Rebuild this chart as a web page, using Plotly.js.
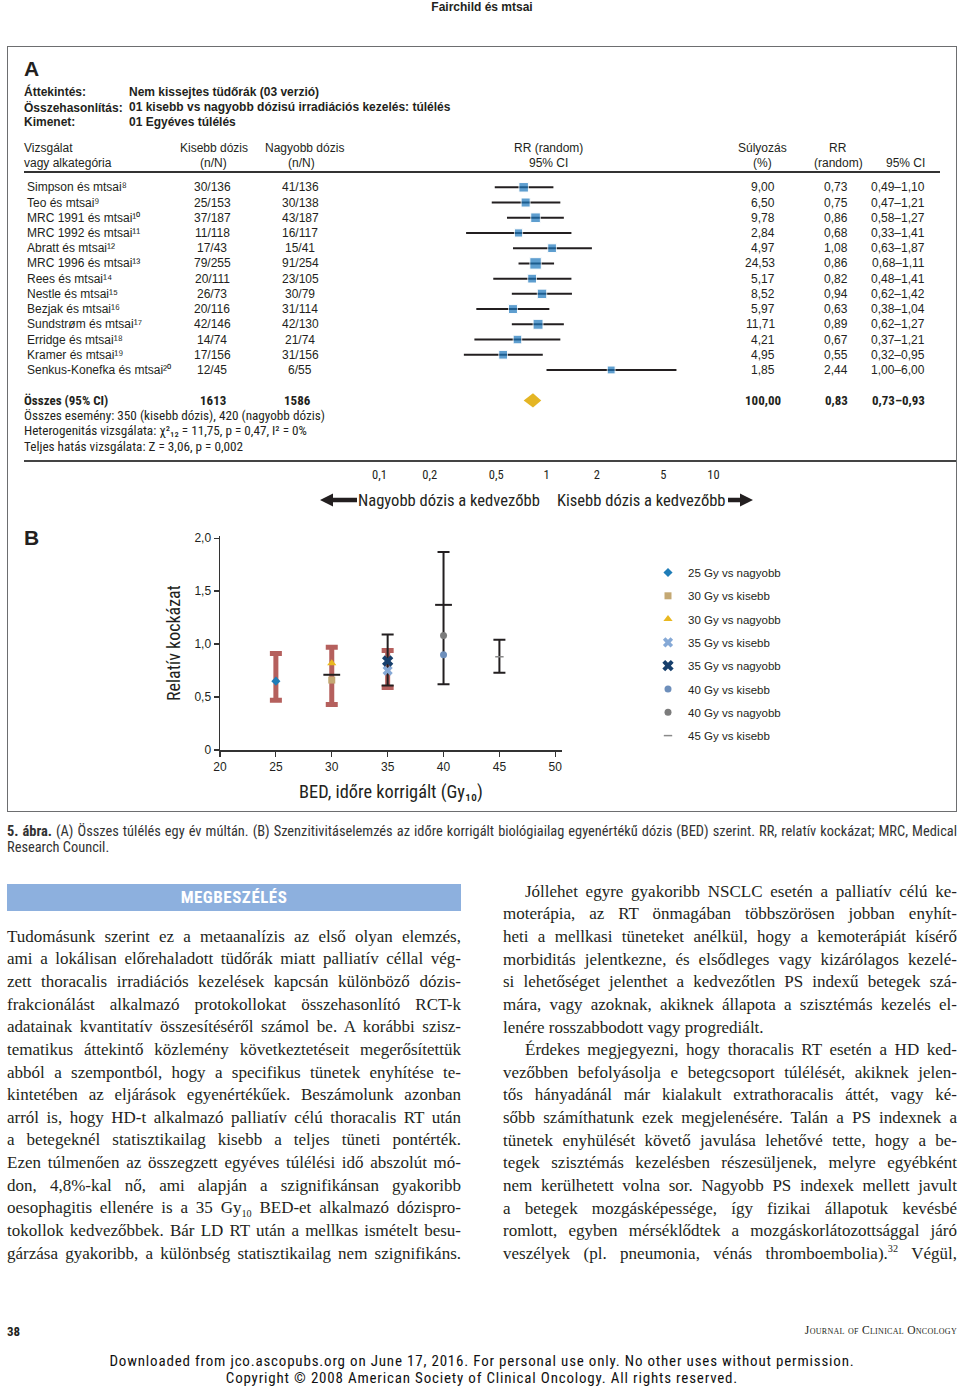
<!DOCTYPE html>
<html><head><meta charset="utf-8">
<script src="https://cdn.plot.ly/plotly-3.0.1.min.js"></script>
<style>
html,body{margin:0;padding:0;background:#fff}
body{width:960px;height:1387px;position:relative;overflow:hidden;font-family:"Liberation Sans",Arial,sans-serif;color:#231f20}
.abs{position:absolute}
#hdr{left:0;width:964px;top:0;text-align:center;font-weight:bold;font-size:12px;line-height:14px}
#box{left:7px;top:46px;width:948px;height:764px;border:1.5px solid #6d6e70}
#fig{left:7px;top:46px;width:950px;height:766px}
.cap{left:7px;width:950px;font-family:"Roboto Condensed","Liberation Sans Narrow","DejaVu Sans Condensed",sans-serif;font-size:13px;line-height:16px;color:#333;white-space:nowrap}
#mb{left:7px;top:884px;width:454px;height:27px;background:#8db0de;color:#fff;text-align:center;font-family:"Roboto Condensed","Liberation Sans Narrow","DejaVu Sans Condensed",sans-serif;font-weight:bold;font-size:17px;line-height:27px;letter-spacing:0.5px}
.col{width:454px;font-family:"Liberation Serif","DejaVu Serif",serif;font-size:17px;line-height:22.64px;color:#231f20}
.col div{white-space:nowrap}
.col sub,.col sup{font-size:0.6em;line-height:0}
#pg{left:7px;top:1324px;font-family:"Roboto Condensed","Liberation Sans Narrow","DejaVu Sans Condensed",sans-serif;font-weight:bold;font-size:13px}
#jco{right:3px;top:1324px;font-family:"Liberation Serif",serif;font-size:11.5px;font-variant:small-caps;letter-spacing:0.3px}
.dl{left:0;width:964px;text-align:center;font-family:"Roboto Condensed","Liberation Sans Narrow","DejaVu Sans Condensed",sans-serif;font-size:15px;line-height:15px;height:15px;color:#111;white-space:nowrap}
</style></head>
<body>
<div id="hdr" class="abs">Fairchild és mtsai</div>
<div id="box" class="abs"></div>
<div id="fig" class="abs"></div>
<div id="cap" class="abs cap" style="top:824px"><div><span id="cap1"><b>5. ábra.</b> (A) Összes túlélés egy év múltán. (B) Szenzitivitáselemzés az időre korrigált biológiailag egyenértékű dózis (BED) szerint. RR, relatív kockázat; MRC, Medical</span></div><div>Research Council.</div></div>
<div id="mb" class="abs">MEGBESZÉLÉS</div>
<div id="colL" class="abs col" style="left:7px;top:925.7px"></div>
<div id="colR" class="abs col" style="left:503px;top:880.7px"></div>
<div id="pg" class="abs">38</div>
<div id="jco" class="abs">Journal of Clinical Oncology</div>
<div class="abs dl" style="top:1354px"><span id="dl1">Downloaded from jco.ascopubs.org on June 17, 2016. For personal use only. No other uses without permission.</span></div>
<div class="abs dl" style="top:1371px"><span id="dl2">Copyright © 2008 American Society of Clinical Oncology. All rights reserved.</span></div>
<script>
// ---------- Panel A data (forest plot) ----------
const studyNames = ['Simpson és mtsai','Teo és mtsai','MRC 1991 és mtsai','MRC 1992 és mtsai','Abratt és mtsai','MRC 1996 és mtsai','Rees és mtsai','Nestle és mtsai','Bezjak és mtsai','Sundstrøm és mtsai','Erridge és mtsai','Kramer és mtsai','Senkus-Konefka és mtsai'];
const studyRefs = [8,9,10,11,12,13,14,15,16,17,18,19,20];
const lowEvents = [30,25,37,11,17,79,20,26,20,42,14,17,12];
const lowTotal = [136,153,187,118,43,255,111,73,116,146,74,156,45];
const highEvents = [41,30,43,16,15,91,23,30,31,42,21,31,6];
const highTotal = [136,138,187,117,41,254,105,79,114,130,74,156,55];
const weights = [9.00,6.50,9.78,2.84,4.97,24.53,5.17,8.52,5.97,11.71,4.21,4.95,1.85];
const rr = [0.73,0.75,0.86,0.68,1.08,0.86,0.82,0.94,0.63,0.89,0.67,0.55,2.44];
const ciLow = [0.49,0.47,0.58,0.33,0.63,0.68,0.48,0.62,0.38,0.62,0.37,0.32,1.00];
const ciHigh = [1.10,1.21,1.27,1.41,1.87,1.11,1.41,1.42,1.04,1.27,1.21,0.95,6.00];
const pooledWeight = 100.00;
const pooledRR = 0.83;
const pooledLow = 0.73;
const pooledHigh = 0.93;
const forestTickVals = [0.1,0.2,0.5,1,2,5,10];
const forestTickText = ['0,1','0,2','0,5','1','2','5','10'];

// ---------- Panel B data ----------
const bedLabels = ['25 Gy vs nagyobb','30 Gy vs kisebb','30 Gy vs nagyobb','35 Gy vs kisebb','35 Gy vs nagyobb','40 Gy vs kisebb','40 Gy vs nagyobb','45 Gy vs kisebb'];
const bedX = [25,30,30,35,35,40,40,45];
const bedRR = [0.65,0.66,0.82,0.75,0.84,0.90,1.08,0.88];
const redX = [25,30,35];
const redLow = [0.47,0.43,0.59];
const redHigh = [0.91,0.97,0.94];
const blackX = [35,40,45];
const blackLow = [0.61,0.62,0.73];
const blackHigh = [1.09,1.87,1.04];
const dashX = [30,40];
const dashY = [0.71,1.37];
const bedTickX = [20,25,30,35,40,45,50];
const bedTickY = [0,0.5,1,1.5,2];
const bedTickYText = ['0','0,5','1,0','1,5','2,0'];

// ---------- helpers ----------
const SANS = '"Liberation Sans", Arial, sans-serif';
const COND = '"Roboto Condensed", "Liberation Sans Narrow", "DejaVu Sans Condensed", sans-serif';
const INK = '#231f20';
const W = 950, H = 766, L0 = 7, T0 = 46;
const px = p => (p - L0) / W;
const py = p => 1 - (p - T0) / H;
const fmt = (v, d) => v.toFixed(d).replace('.', ',');
const sum = a => a.reduce((s, v) => s + v, 0);
const SUPD = '⁰¹²³⁴⁵⁶⁷⁸⁹', SUBD = '₀₁₂₃₄₅₆₇₈₉';
const sup = n => String(n).split('').map(c => SUPD[+c]).join('');
const sub = n => String(n).split('').map(c => SUBD[+c]).join('');
const cv = document.createElement('canvas').getContext('2d');
function fit(plain, family, bold, target, maxSize) {
  cv.font = (bold ? 'bold ' : '') + '20px ' + family;
  const s = 20 * target / cv.measureText(plain).width;
  return Math.min(s, maxSize || 99);
}

const ann = [];
function txt(text, x, y, o) {
  o = o || {};
  ann.push({
    text: text, x: px(x), xref: 'paper',
    y: o.row !== undefined ? o.row : py(y), yref: o.row !== undefined ? 'y' : 'paper',
    xanchor: o.xa || 'left', yanchor: 'middle', align: 'left', showarrow: false,
    font: {family: o.fam || SANS, size: o.size || 12, color: INK}
  });
}

// Panel A header block
txt('<b>A</b>', 22, 69, {size: 21});
txt('<b>Áttekintés:</b>', 22, 92);
txt('<b>Összehasonlítás:</b>', 22, 107);
txt('<b>Kimenet:</b>', 22, 122);
txt('<b>Nem kissejtes tüdőrák (03 verzió)</b>', 127, 92);
txt('<b>01 kisebb vs nagyobb dózisú irradiációs kezelés: túlélés</b>', 127, 107);
txt('<b>01 Egyéves túlélés</b>', 127, 122);
// column headers
txt('Vizsgálat', 22, 148);
txt('vagy alkategória', 22, 163);
txt('Kisebb dózis', 214, 148, {xa: 'center'});
txt('(n/N)', 213, 163, {xa: 'center'});
txt('Nagyobb dózis', 304, 148, {xa: 'center'});
txt('(n/N)', 301, 163, {xa: 'center'});
txt('RR (random)', 548, 148, {xa: 'center'});
txt('95% CI', 548, 163, {xa: 'center'});
txt('Súlyozás', 762, 148, {xa: 'center'});
txt('(%)', 762, 163, {xa: 'center'});
txt('RR', 838, 148, {xa: 'center'});
txt('(random)', 838, 163, {xa: 'center'});
txt('95% CI', 927, 163, {xa: 'right'});

const rows = studyNames.map((_, i) => i + 1);
studyNames.forEach((n, i) => {
  const r = rows[i];
  txt(n + sup(studyRefs[i]), 25, 0, {row: r});
  txt(lowEvents[i] + '/' + lowTotal[i], 212, 0, {row: r, xa: 'center'});
  txt(highEvents[i] + '/' + highTotal[i], 300, 0, {row: r, xa: 'center'});
  txt(fmt(weights[i], 2), 777, 0, {row: r, xa: 'right'});
  txt(fmt(rr[i], 2), 850, 0, {row: r, xa: 'right'});
  txt(fmt(ciLow[i], 2) + '–' + fmt(ciHigh[i], 2), 927, 0, {row: r, xa: 'right'});
});
const pooledRow = rows.length + 2;
const boldSz = fit('Összes (95% CI)', COND, true, 90, 13);
txt('<b>Összes (95% CI)</b>', 22, 0, {row: pooledRow, fam: COND, size: boldSz});
txt('<b>' + sum(lowTotal) + '</b>', 213, 0, {row: pooledRow, xa: 'center', fam: COND, size: boldSz});
txt('<b>' + sum(highTotal) + '</b>', 297, 0, {row: pooledRow, xa: 'center', fam: COND, size: boldSz});
txt('<b>' + fmt(pooledWeight, 2) + '</b>', 783, 0, {row: pooledRow, xa: 'right', fam: COND, size: boldSz});
txt('<b>' + fmt(pooledRR, 2) + '</b>', 850, 0, {row: pooledRow, xa: 'right', fam: COND, size: boldSz});
txt('<b>' + fmt(pooledLow, 2) + '–' + fmt(pooledHigh, 2) + '</b>', 927, 0, {row: pooledRow, xa: 'right', fam: COND, size: boldSz});
const evText = 'Összes esemény: ' + sum(lowEvents) + ' (kisebb dózis), ' + sum(highEvents) + ' (nagyobb dózis)';
const notes = [evText,
  'Heterogenitás vizsgálata: χ²' + sub(12) + ' = 11,75, p = 0,47, I² = 0%',
  'Teljes hatás vizsgálata: Z = 3,06, p = 0,002'];
const noteSz = fit(evText, COND, false, 318, 13.2);
notes.forEach((t, k) => txt(t, 22, 0, {row: pooledRow + 1 + k, fam: COND, size: noteSz}));
// favour labels
const favSz = fit('Nagyobb dózis a kedvezőbb', COND, false, 182, 17);
txt('Nagyobb dózis a kedvezőbb', 542, 500, {xa: 'right', fam: COND, size: favSz});
txt('Kisebb dózis a kedvezőbb', 555, 500, {fam: COND, size: favSz});
txt('<b>B</b>', 22, 537, {size: 21});

// arrow polygons (paper coordinates)
function arrowPath(tipX, tailX, yc) {
  const dir = tailX > tipX ? 1 : -1;
  const headX = tipX + dir * 13;
  const pts = [[tipX, yc], [headX, yc - 6.5], [headX, yc - 2.2], [tailX, yc - 2.2], [tailX, yc + 2.2], [headX, yc + 2.2], [headX, yc + 6.5]];
  return 'M' + pts.map(p => px(p[0]) + ',' + py(p[1])).join(' L') + ' Z';
}

// ---------- traces ----------
const traces = [];
traces.push({
  type: 'scatter', mode: 'markers', x: rr, y: rows, xaxis: 'x', yaxis: 'y', showlegend: false, hoverinfo: 'skip',
  marker: {symbol: 'square', color: '#1b76bc', size: weights.map(w => 6.5 + Math.sqrt(w))},
  error_x: {type: 'data', symmetric: false, array: rr.map((v, i) => ciHigh[i] - v), arrayminus: rr.map((v, i) => v - ciLow[i]), color: INK, thickness: 2, width: 0}
});
traces.push({
  type: 'scatter', mode: 'lines', xaxis: 'x', yaxis: 'y', showlegend: false, hoverinfo: 'skip',
  x: [pooledLow, pooledRR, pooledHigh, pooledRR, pooledLow],
  y: [pooledRow, pooledRow - 0.47, pooledRow, pooledRow + 0.47, pooledRow],
  fill: 'toself', fillcolor: '#e4b524', line: {width: 0, color: '#e4b524'}
});
// panel B error bars
traces.push({
  type: 'scatter', mode: 'markers', x: redX, y: redLow, xaxis: 'x2', yaxis: 'y2', showlegend: false, hoverinfo: 'skip',
  marker: {size: 1, opacity: 0},
  error_y: {type: 'data', symmetric: false, array: redHigh.map((h, i) => h - redLow[i]), arrayminus: redX.map(() => 0), color: '#b5605d', thickness: 5, width: 6}
});
traces.push({
  type: 'scatter', mode: 'markers', x: blackX, y: blackLow, xaxis: 'x2', yaxis: 'y2', showlegend: false, hoverinfo: 'skip',
  marker: {size: 1, opacity: 0},
  error_y: {type: 'data', symmetric: false, array: blackHigh.map((h, i) => h - blackLow[i]), arrayminus: blackX.map(() => 0), color: INK, thickness: 2, width: 6}
});
traces.push({
  type: 'scatter', mode: 'markers', x: dashX, y: dashY, xaxis: 'x2', yaxis: 'y2', showlegend: false, hoverinfo: 'skip',
  marker: {symbol: 'line-ew', size: 12, line: {width: 2, color: INK}}
});
const bedStyle = [
  {symbol: 'diamond', color: '#1f7db8', size: 7},
  {symbol: 'square', color: '#c4a873', size: 7},
  {symbol: 'triangle-up', color: '#e9b820', size: 8},
  {symbol: 'x', color: '#86a9d6', size: 9},
  {symbol: 'x', color: '#173f6c', size: 10},
  {symbol: 'circle', color: '#6e8fbb', size: 7},
  {symbol: 'circle', color: '#7c7c7c', size: 7},
  {symbol: 'line-ew', color: '#8a8a8a', size: 6}
];
bedLabels.forEach((lab, i) => {
  const s = bedStyle[i];
  traces.push({
    type: 'scatter', mode: 'markers', name: lab, legendgroup: 'g' + i,
    x: [bedX[i]], y: [bedRR[i]], xaxis: 'x2', yaxis: 'y2', hoverinfo: 'skip',
    marker: {symbol: s.symbol, color: s.color, size: s.size, line: {width: s.symbol === 'line-ew' ? 1.5 : 0, color: s.color}}
  });
});

const axisB = {showgrid: false, zeroline: false, showline: true, linecolor: '#333', linewidth: 1.5, ticks: 'outside', ticklen: 5, tickcolor: '#333', tickwidth: 1.2, tickfont: {family: SANS, size: 12, color: INK}, fixedrange: true};
const xTitle = fit('BED, időre korrigált (Gy10)', COND, false, 190, 19);
const yTitle = fit('Relatív kockázat', COND, false, 116, 19);

const layout = {
  width: W, height: H, margin: {l: 0, r: 0, t: 0, b: 0},
  paper_bgcolor: 'rgba(0,0,0,0)', plot_bgcolor: 'rgba(0,0,0,0)',
  xaxis: {type: 'log', domain: [px(546.5 - 1.6 * 167), px(546.5 + 1.5 * 167)], range: [-1.6, 1.5], anchor: 'y',
    tickvals: forestTickVals, ticktext: forestTickText, ticks: '', showgrid: false, zeroline: false, showline: false,
    tickfont: {family: COND, size: 12.5, color: INK}, ticklabelstandoff: 4, fixedrange: true},
  yaxis: {domain: [py(461), py(172)], range: [18.98, -0.005], visible: false, fixedrange: true},
  xaxis2: Object.assign({}, axisB, {domain: [px(220), px(562)], range: [20, 50.6], anchor: 'y2', tickvals: bedTickX,
    title: {text: 'BED, időre korrigált (Gy' + sub(10) + ')', font: {family: COND, size: xTitle, color: INK}, standoff: 12}}),
  yaxis2: Object.assign({}, axisB, {domain: [py(750), py(536)], range: [0, 2.02], anchor: 'x2', tickvals: bedTickY, ticktext: bedTickYText,
    title: {text: 'Relatív kockázat', font: {family: COND, size: yTitle, color: INK}, standoff: 9}}),
  showlegend: true,
  legend: {x: px(648), y: py(558), xanchor: 'left', yanchor: 'top', traceorder: 'grouped', tracegroupgap: 4.3,
    font: {family: SANS, size: 11.5, color: INK}, bgcolor: 'rgba(0,0,0,0)', itemclick: false, itemdoubleclick: false},
  shapes: [
    {type: 'line', xref: 'x', yref: 'paper', x0: 0, x1: 0, y0: py(461), y1: py(172), line: {color: INK, width: 1.5}},
    {type: 'line', xref: 'paper', yref: 'paper', x0: px(24), x1: px(940), y0: py(172), y1: py(172), line: {color: '#333', width: 1.8}},
    {type: 'line', xref: 'paper', yref: 'paper', x0: px(24), x1: px(956), y0: py(461), y1: py(461), line: {color: '#444', width: 2}},
    {type: 'path', xref: 'paper', yref: 'paper', path: arrowPath(320, 357, 500), fillcolor: INK, line: {width: 0}},
    {type: 'path', xref: 'paper', yref: 'paper', path: arrowPath(753, 728, 500), fillcolor: INK, line: {width: 0}}
  ],
  annotations: ann,
  hovermode: false
};
Plotly.newPlot('fig', traces, layout, {displayModeBar: false, staticPlot: true});

// ---------- article text ----------
const leftLines = [
  'Tudomásunk szerint ez a metaanalízis az első olyan elemzés,',
  'ami a lokálisan előrehaladott tüdőrák miatt palliatív céllal vég-',
  'zett thoracalis irradiációs kezelések kapcsán különböző dózis-',
  'frakcionálást alkalmazó protokollokat összehasonlító RCT-k',
  'adatainak kvantitatív összesítéséről számol be. A korábbi szisz-',
  'tematikus áttekintő közlemény következtetéseit megerősítettük',
  'abból a szempontból, hogy a specifikus tünetek enyhítése te-',
  'kintetében az eljárások egyenértékűek. Beszámolunk azonban',
  'arról is, hogy HD-t alkalmazó palliatív célú thoracalis RT után',
  'a betegeknél statisztikailag kisebb a teljes tüneti pontérték.',
  'Ezen túlmenően az összegzett egyéves túlélési idő abszolút mó-',
  'don, 4,8%-kal nő, ami alapján a szignifikánsan gyakoribb',
  'oesophagitis ellenére is a 35 Gy<sub>10</sub> BED-et alkalmazó dózispro-',
  'tokollok kedvezőbbek. Bár LD RT után a mellkas ismételt besu-',
  'gárzása gyakoribb, a különbség statisztikailag nem szignifikáns.'
];
const rightLines = [
  ['Jóllehet egyre gyakoribb NSCLC esetén a palliatív célú ke-', 'i'],
  ['moterápia, az RT önmagában többszörösen jobban enyhít-', ''],
  ['heti a mellkasi tüneteket anélkül, hogy a kemoterápiát kísérő', ''],
  ['morbiditás jelentkezne, és elsődleges vagy kizárólagos kezelé-', ''],
  ['si lehetőséget jelenthet a kedvezőtlen PS indexű betegek szá-', ''],
  ['mára, vagy azoknak, akiknek állapota a szisztémás kezelés el-', ''],
  ['lenére rosszabbodott vagy progrediált.', 'e'],
  ['Érdekes megjegyezni, hogy thoracalis RT esetén a HD ked-', 'i'],
  ['vezőbben befolyásolja e betegcsoport túlélését, akiknek jelen-', ''],
  ['tős hányadánál már kialakult extrathoracalis áttét, vagy ké-', ''],
  ['sőbb számíthatunk ezek megjelenésére. Talán a PS indexnek a', ''],
  ['tünetek enyhülését követő javulása lehetővé tette, hogy a be-', ''],
  ['tegek szisztémás kezelésben részesüljenek, melyre egyébként', ''],
  ['nem kerülhetett volna sor. Nagyobb PS indexek mellett javult', ''],
  ['a betegek mozgásképessége, így fizikai állapotuk kevésbé', ''],
  ['romlott, egyben mérséklődtek a mozgáskorlátozottsággal járó', ''],
  ['veszélyek (pl. pneumonia, vénás thromboembolia).<sup>32</sup> Végül,', '']
];
function justifyInto(el, text, width, indent, justify) {
  const d = document.createElement('div');
  const s = document.createElement('span');
  s.innerHTML = text;
  d.appendChild(s);
  if (indent) d.style.paddingLeft = indent + 'px';
  el.appendChild(d);
  if (!justify) return;
  const avail = width - (indent || 0);
  const natural = s.getBoundingClientRect().width;
  const spaces = (s.textContent.match(/ /g) || []).length;
  if (spaces > 0) s.style.wordSpacing = ((avail - natural) / spaces) + 'px';
}
const colL = document.getElementById('colL');
leftLines.forEach(t => justifyInto(colL, t, 454, 0, true));
const colR = document.getElementById('colR');
rightLines.forEach(([t, f]) => justifyInto(colR, t, 454, f === 'i' ? 22 : 0, f !== 'e'));
// caption: size so that line 1 nearly fills the width, then justify it
(function () {
  const cap = document.getElementById('cap'), c1 = document.getElementById('cap1');
  const sz = Math.min(14.5, 13 * 935 / c1.getBoundingClientRect().width);
  cap.style.fontSize = sz + 'px';
  const spaces = (c1.textContent.match(/ /g) || []).length;
  c1.style.wordSpacing = ((950 - c1.getBoundingClientRect().width) / spaces) + 'px';
  // download notice: stretch letter spacing to the reference width instead of enlarging the font
  const d1 = document.getElementById('dl1'), d2 = document.getElementById('dl2');
  const n1 = d1.textContent.length;
  const ls = Math.max(0, (745 - d1.getBoundingClientRect().width) / n1);
  d1.style.letterSpacing = ls + 'px'; d2.style.letterSpacing = ls + 'px';
})();
</script>
</body></html>
